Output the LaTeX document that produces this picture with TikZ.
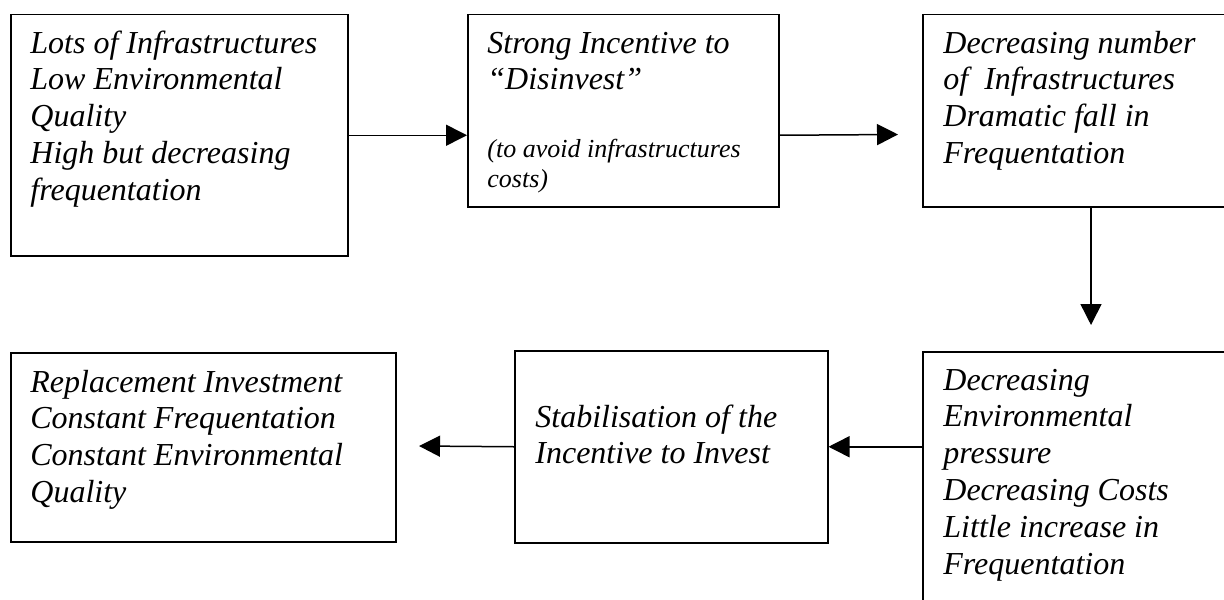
\documentclass[tikz,border=0pt]{standalone}
\usepackage{fontspec}
\setmainfont{Liberation Serif}
\usetikzlibrary{arrows.meta}

\begin{document}
\begin{tikzpicture}[x=0.5pt,y=-0.5pt,
  frame/.style={draw,line width=0.75pt,inner sep=0pt,anchor=north west},
  txt/.style={align=left,inner sep=0pt,anchor=north west,font=\fontsize{16}{18.4}\selectfont\itshape},
  note/.style={align=left,inner sep=0pt,anchor=north west,font=\fontsize{13}{15}\selectfont\itshape},
  flow/.style={line width=0.75pt,-{Triangle[length=10.5pt,width=10.5pt]}}]
  \useasboundingbox (0,0) rectangle (1224,599);
  \clip (0,0) rectangle (1224,599);
  \node[frame,minimum width=168.5pt,minimum height=120.5pt] (b1) at (10,14) {};
  \node[frame,minimum width=155.5pt,minimum height=96pt] (b2) at (467,14) {};
  \node[frame,minimum width=160pt,minimum height=96pt] (b3) at (922,14) {};
  \node[frame,minimum width=160pt,minimum height=150pt] (b6) at (922,351) {};
  \node[frame,minimum width=156.5pt,minimum height=96pt] (b5) at (514,350) {};
  \node[frame,minimum width=192.5pt,minimum height=94.5pt] (b4) at (10,352) {};
  \node[txt] (t1) at ([shift={(20,13)}]b1.north west) {\strut Lots of Infrastructures\\Low Environmental\\Quality\\High but decreasing\\frequentation};
  \node[txt] (t2) at ([shift={(20,13)}]b2.north west) {\strut Strong Incentive to\\“Disinvest”};
  \node[note] (t2n) at ([shift={(20,122)}]b2.north west) {\strut (to avoid infrastructures\\costs)};
  \node[txt] (t3) at ([shift={(21,13)}]b3.north west) {\strut Decreasing number\\of~ Infrastructures\\Dramatic fall in\\Frequentation};
  \node[txt] (t6) at ([shift={(21,13)}]b6.north west) {\strut Decreasing\\Environmental\\pressure\\Decreasing Costs\\Little increase in\\Frequentation};
  \node[txt] (t5) at ([shift={(21,51)}]b5.north west) {\strut Stabilisation of the\\Incentive to Invest};
  \node[txt] (t4) at ([shift={(20,14)}]b4.north west) {\strut Replacement Investment\\Constant Frequentation\\Constant Environmental\\Quality};
  \coordinate (a2) at (898,134.5);
  \coordinate (a3) at (1091,325);
  \coordinate (a5) at (419,446);
  \draw[flow] (b1.east) -- (b1.east -| b2.west);
  \draw[flow] (b2.east |- b1.east) -- (a2);
  \draw[flow] (b3.south -| a3) -- (a3);
  \draw[flow] (b6.west |- b5.east) -- (b5.east);
  \draw[flow] (b5.west) -- (a5);
\end{tikzpicture}
\end{document}
